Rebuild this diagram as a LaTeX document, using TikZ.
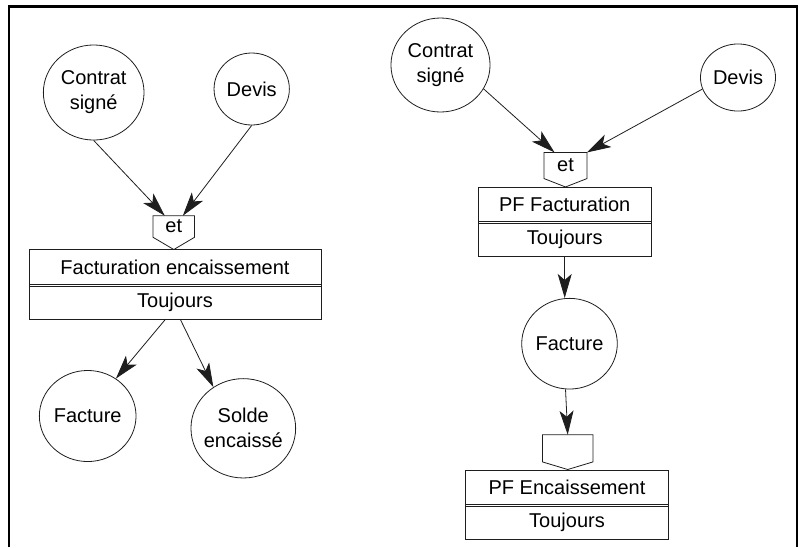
\documentclass[tikz,border=0pt]{standalone}
\usepackage{fontspec}
\setmainfont{Liberation Sans}
\usetikzlibrary{positioning,shapes.geometric,arrows.meta}
\begin{document}
\begin{tikzpicture}[x=0.75pt, y=-0.75pt,
		font=\fontsize{15}{18.75}\selectfont,
		rond/.style={ellipse, draw=bord, line width=0.6pt, inner sep=-8pt, align=center},
		case/.style={rectangle, inner sep=0pt, align=center},
		porte/.style={rectangle, inner sep=0pt},
		trait/.style={draw=bord, line width=0.6pt},
		fleche/.style={draw=bord, line width=0.6pt, -{Stealth[length=18pt, width=10.5pt, inset=4.5pt]}}]
			\definecolor{bord}{RGB}{30,30,30}
			\useasboundingbox (0,0) rectangle (805,547);
			\draw[line width=1.6pt] (9.2,547) -- (9.2,6.5) -- (797.3,6.5) -- (797.3,547);
			\node[rond, minimum width=75.5pt, minimum height=71.3pt] (contratG) at (93.7,92.5) {Contrat\\signé};
			\node[rond, minimum width=56.5pt, minimum height=54pt] (devisG) at (251.7,89) {Devis};
			\node[porte, minimum width=30.75pt, minimum height=15.75pt] (etG) at (173.8,226.5) {et};
			\node[case, minimum width=218.5pt, minimum height=26.8pt] (factG) at (175,267.1) {Facturation encaissement};
			\node[case, minimum width=218.5pt, minimum height=25pt, below=0pt of factG] (toujG) {Toujours};
			\node[rond, minimum width=72.5pt, minimum height=68.3pt] (factureG) at (87.7,416) {Facture};
			\node[rond, minimum width=78.5pt, minimum height=74.5pt] (soldeG) at (243.3,428.3) {Solde\\encaissé};
			\node[rond, minimum width=74.3pt, minimum height=70.5pt] (contratD) at (440.5,65) {Contrat\\signé};
			\node[rond, minimum width=56.3pt, minimum height=50.3pt] (devisD) at (738,77.5) {Devis};
			\node[porte, minimum width=31.8pt, minimum height=19.2pt] (etD) at (565.5,165.5) {et};
			\node[case, minimum width=129.5pt, minimum height=25.8pt] (pfFact) at (564.7,204.5) {PF Facturation};
			\node[case, minimum width=129.5pt, minimum height=25.7pt, below=0pt of pfFact] (toujD) {Toujours};
			\node[rond, minimum width=71.7pt, minimum height=68pt] (factureD) at (569.5,343.7) {Facture};
			\node[porte, minimum width=37.5pt, minimum height=20pt] (vide) at (567.7,448.3) {};
			\node[case, minimum width=152pt, minimum height=25.8pt] (pfEnc) at (567,487.5) {PF Encaissement};
			\node[case, minimum width=152pt, minimum height=25.2pt, below=0pt of pfEnc] (toujE) {Toujours};
			\foreach \p/\d in {etG/9.2pt, etD/6.3pt, vide/5.7pt}
				\draw[trait] (\p.north west) -- (\p.north east) -- (\p.south east) -- ([yshift=-\d]\p.south) -- (\p.south west) -- cycle;
			\foreach \haut/\bas in {factG/toujG, pfFact/toujD, pfEnc/toujE} {
				\draw[trait] (\haut.north west) rectangle (\bas.south east);
				\draw[trait, line width=0.5pt] ([yshift=0.75pt]\haut.south west) -- ([yshift=0.75pt]\haut.south east);
				\draw[trait, line width=0.5pt] ([yshift=-0.75pt]\haut.south west) -- ([yshift=-0.75pt]\haut.south east);
			}
			\draw[fleche] (contratG.south) -- (etG.130);
			\draw[fleche] (devisG.south) -- (etG.50);
			\draw[fleche] (toujG.241) -- (factureG.53);
			\draw[fleche] (toujG.-73) -- (soldeG.126);
			\draw[fleche] (contratD.-29) -- (etD.130);
			\draw[fleche] (devisD.198) -- (etD.north east);
			\draw[fleche] (toujD.south) -- (toujD.south |- factureD.north);
			\draw[fleche] (factureD.265) -- (vide.north);
		\end{tikzpicture}
\end{document}
